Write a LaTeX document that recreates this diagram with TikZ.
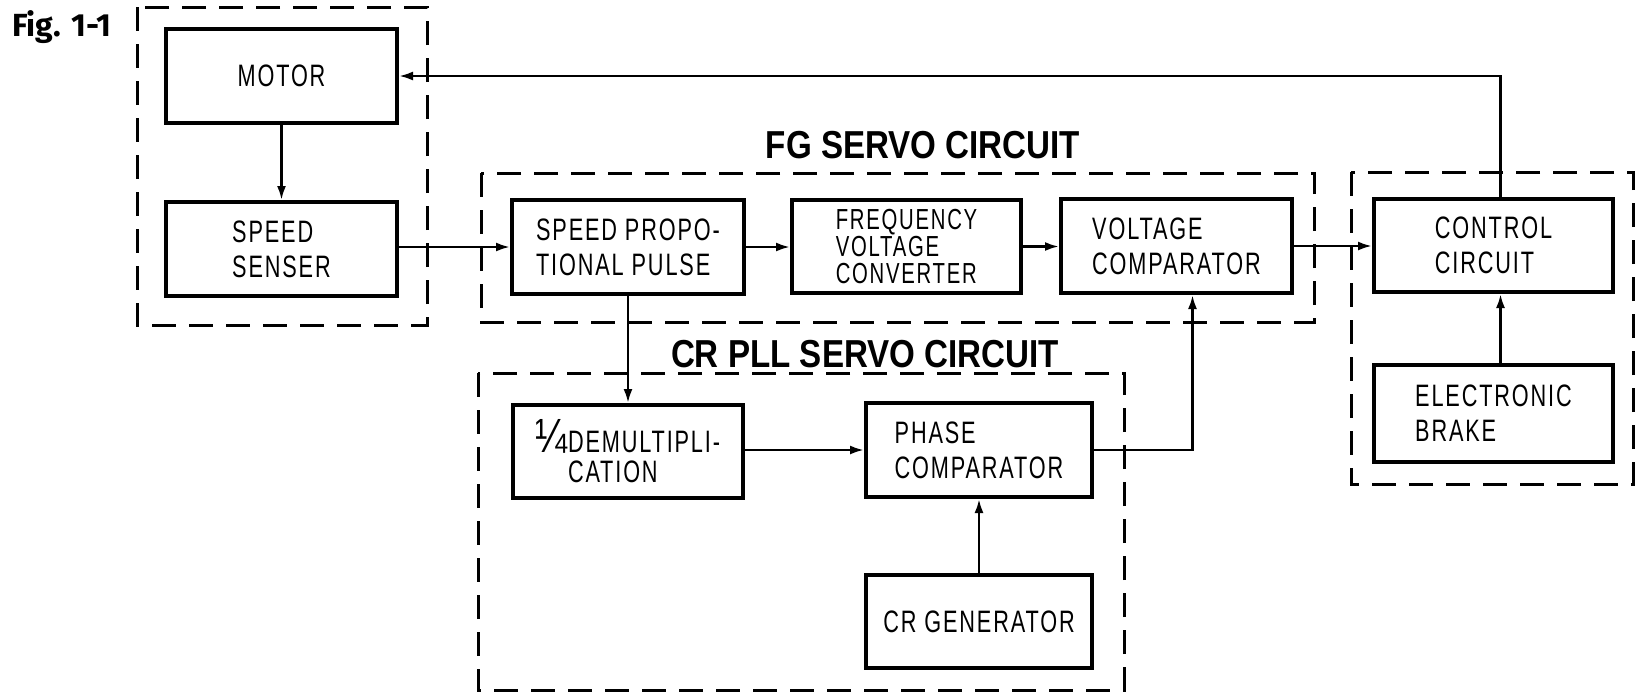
\documentclass[tikz,border=0pt]{standalone}
\usepackage{fontspec}
\setmainfont{Liberation Sans}
\newfontfamily\condfont[FakeStretch=0.70,LetterSpace=6]{Liberation Sans}
\newfontfamily\qfont[FakeStretch=0.80]{Liberation Sans}
\newfontfamily\ttlfont[FakeStretch=0.85]{Liberation Sans}
\newfontfamily\figfont{Fira Sans}
\usetikzlibrary{arrows.meta}
\begin{document}
\begin{tikzpicture}[x=1pt,y=-1pt,
  blk/.style={draw, line width=4pt, inner sep=0pt, align=left,
    font=\condfont\fontsize{31}{35}\selectfont},
  grp/.style={draw, line width=3pt, dash pattern=on 24pt off 13pt},
  conn/.style={line width=2.5pt, -{Latex[length=14pt,width=9pt]}},
  ttl/.style={inner sep=0pt, anchor=base, font=\ttlfont\bfseries\fontsize{39}{42}\selectfont}]
\useasboundingbox (0,0) rectangle (1636,697);
\fill[white] (0,0) rectangle (1636,697);

% figure label
\node[inner sep=0pt, anchor=base west, font=\figfont\bfseries\fontsize{32}{34}\selectfont] (fig) at (12,36) {Fig. 1-1};

% group frames
\draw[grp] (137,7) rectangle (427,325);
\draw[grp] (481,173) rectangle (1314,322);
\draw[grp] (478,373) rectangle (1124,690);
\draw[grp] (1351,172) rectangle (1633,484);

% titles
\node[ttl] (fgt) at (923,158) {FG SERVO CIRCUIT};
\node[ttl] (crt) at (865,367) {CR PLL SERVO CIRCUIT};

% blocks
\node[blk, minimum width=231pt, minimum height=94pt] (motor) at (281.5,76) {MOTOR};
\node[blk, minimum width=231pt, minimum height=94pt] (senser) at (281.5,249) {SPEED\\SENSER};
\node[blk, minimum width=232pt, minimum height=94pt] (propo) at (628,247) {SPEED PROPO-\\TIONAL PULSE};
\node[blk, minimum width=229pt, minimum height=93pt, font=\condfont\fontsize{29}{27}\selectfont] (freq) at (906.5,246.5) {FREQUENCY\\VOLTAGE\\CONVERTER};
\node[blk, minimum width=231pt, minimum height=94pt] (volt) at (1176.5,246) {VOLTAGE\\COMPARATOR};
\node[blk, minimum width=239pt, minimum height=93pt] (ctrl) at (1493.5,245.5) {CONTROL\\CIRCUIT};
\node[blk, minimum width=239pt, minimum height=97pt] (brake) at (1493.5,413.5) {ELECTRONIC\\BRAKE};
\node[blk, minimum width=230pt, minimum height=93pt, font=\condfont\fontsize{31}{30}\selectfont] (demult) at (628,451.5) {{\qfont\fontsize{48}{30}\selectfont ¼}DEMULTIPLI-\\\hphantom{{\qfont\fontsize{48}{30}\selectfont ¼}}CATION};
\node[blk, minimum width=226pt, minimum height=94pt] (phase) at (979,450) {PHASE\\COMPARATOR};
\node[blk, minimum width=226pt, minimum height=93pt] (crgen) at (979,621.5) {CR GENERATOR};

% connectors
\coordinate (fbx) at ([xshift=7pt]ctrl.north);
\coordinate (vin) at ([xshift=16pt]volt.south);
\draw[conn] (motor.south) -- (senser.north);
\draw[conn] (senser.east |- propo.west) -- (propo.west);
\draw[conn] (propo.east) -- (freq.west |- propo.east);
\draw[conn] (freq.east) -- (volt.west |- freq.east);
\draw[conn] (volt.east) -- (ctrl.west |- volt.east);
\draw[conn] (fbx) -- (fbx |- motor.east) -- (motor.east);
\draw[conn] ([xshift=7pt]brake.north) -- ([xshift=7pt]ctrl.south);
\draw[conn] (propo.south) -- (demult.north);
\draw[conn] (demult.east |- phase.west) -- (phase.west);
\draw[conn] (phase.east) -| (vin);
\draw[conn] (crgen.north) -- (phase.south);
\end{tikzpicture}
\end{document}
